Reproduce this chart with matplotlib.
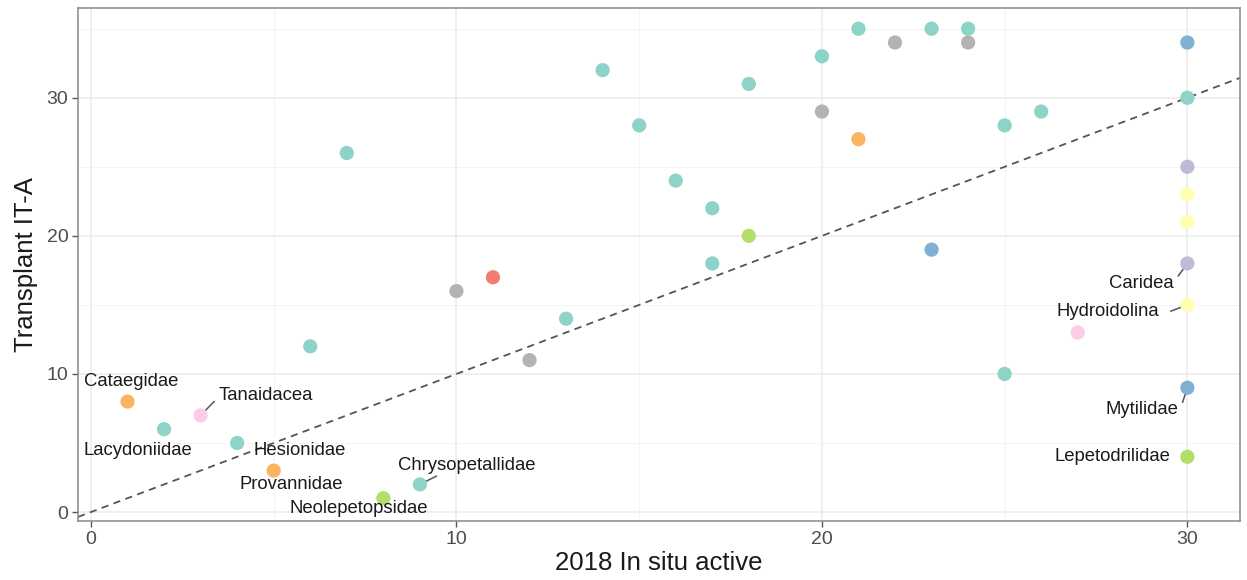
import matplotlib
matplotlib.use("Agg")
import matplotlib.pyplot as plt

plt.rcParams['font.family'] = ['Liberation Sans', 'DejaVu Sans']

# Taxa abundances: 2018 in situ active vs transplant IT-A
insitu = [1, 2, 3, 4, 5, 6, 7, 8, 9, 10, 11, 12, 13, 14, 15, 16, 17, 17, 18, 18,
          20, 20, 21, 21, 22, 23, 23, 24, 24, 25, 25, 26, 27,
          30, 30, 30, 30, 30, 30, 30, 30, 30]
transplant = [8, 6, 7, 5, 3, 12, 26, 1, 2, 16, 17, 11, 14, 32, 28, 24, 22, 18, 31, 20,
              33, 29, 35, 27, 34, 35, 19, 35, 34, 28, 10, 29, 13,
              34, 30, 25, 23, 21, 18, 15, 9, 4]
groups = ['orange', 'teal', 'pink', 'teal', 'orange', 'teal', 'teal', 'green', 'teal', 'gray',
          'red', 'gray', 'teal', 'teal', 'teal', 'teal', 'teal', 'teal', 'teal', 'green',
          'teal', 'gray', 'teal', 'orange', 'gray', 'teal', 'blue', 'teal', 'gray', 'teal',
          'teal', 'teal', 'pink',
          'blue', 'teal', 'purple', 'yellow', 'yellow', 'purple', 'yellow', 'blue', 'green']

palette = {
    'teal': '#8dd3c7', 'orange': '#fdb462', 'pink': '#fccde5', 'green': '#b3de69',
    'gray': '#b3b3b3', 'red': '#f27c6e', 'blue': '#80b1d3', 'purple': '#bebada',
    'yellow': '#ffffb3',
}

# Labelled taxa: name, point (x, y), label position (x, y), draw leader segment
label_names = ['Cataegidae', 'Tanaidacea', 'Lacydoniidae', 'Hesionidae', 'Provannidae',
               'Neolepetopsidae', 'Chrysopetallidae', 'Caridea', 'Hydroidolina',
               'Mytilidae', 'Lepetodrilidae']
label_pts = [(1, 8), (3, 7), (2, 6), (4, 5), (5, 3), (8, 1), (9, 2),
             (30, 18), (30, 15), (30, 9), (30, 4)]
label_pos = [(1.09, 9.42), (4.79, 8.41), (1.29, 4.49), (5.72, 4.49), (5.47, 1.96),
             (7.33, 0.29), (10.29, 3.40), (28.73, 16.52), (27.83, 14.49),
             (28.76, 7.39), (27.96, 3.99)]
label_seg = [False, True, False, False, False, False, True, True, True, True, False]
seg_end = {'Tanaidacea': (3.37, 8.0), 'Chrysopetallidae': (9.45, 2.6),
           'Caridea': (29.75, 17.1), 'Hydroidolina': (29.55, 14.55),
           'Mytilidae': (29.87, 7.95)}

fig = plt.figure(figsize=(12.47, 5.8), dpi=100)
ax = fig.add_axes([78 / 1247, 59 / 580, 1162 / 1247, 513 / 580])

ax.set_xlim(-0.355, 31.44)
ax.set_ylim(-0.65, 36.5)

ax.set_xticks([0, 10, 20, 30])
ax.set_yticks([0, 10, 20, 30])
ax.set_xticks([5, 15, 25], minor=True)
ax.set_yticks([5, 15, 25, 35], minor=True)
ax.grid(which='major', color='#ebebeb', linewidth=1.1, zorder=0)
ax.grid(which='minor', color='#f2f2f2', linewidth=0.6, zorder=0)
ax.set_axisbelow(True)
ax.tick_params(which='minor', length=0)
ax.tick_params(which='major', length=4, width=1, color='#555555',
               labelsize=14, labelcolor='#4d4d4d', pad=3)
for s in ax.spines.values():
    s.set_color('#888888')
    s.set_linewidth(1.1)

# 1:1 reference line
ax.axline((0, 0), slope=1, color='#555555', linestyle=(0, (4, 3)), linewidth=1.3, zorder=1)

ax.scatter(insitu, transplant, s=105, c=[palette[g] for g in groups],
           edgecolors='none', zorder=3)

for name, pt, pos, seg in zip(label_names, label_pts, label_pos, label_seg):
    if seg:
        ex, ey = seg_end[name]
        ax.plot([pt[0], ex], [pt[1], ey], color='#555555', linewidth=1.1, zorder=2)
    ax.text(pos[0], pos[1], name, ha='center', va='center', fontsize=13.3,
            color='#1a1a1a', zorder=4)

ax.set_xlabel('2018 In situ active', fontsize=18.5, labelpad=2, color='#1a1a1a')
ax.set_ylabel('Transplant IT-A', fontsize=18.5, labelpad=6, color='#1a1a1a')

fig.savefig('out.png', dpi=100)
